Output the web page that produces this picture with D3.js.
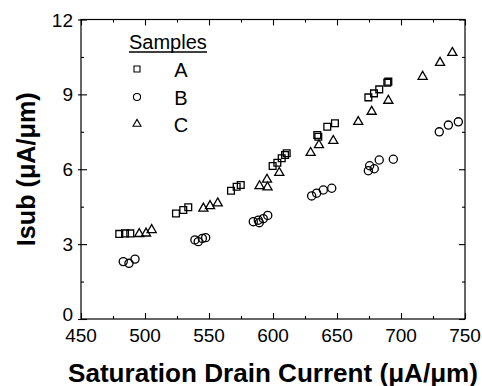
<!DOCTYPE html>
<html><head><meta charset="utf-8">
<script src="https://cdn.jsdelivr.net/npm/d3@7/dist/d3.min.js"></script>
<style>body{margin:0;background:#fff}svg{display:block}text{font-family:"Liberation Sans",Arial,sans-serif;fill:#000}</style>
</head><body><svg id="c" width="482" height="386"></svg>
<script>
// Series A (squares)
const aX = [479.9, 484.4, 488.5, 524.2, 529.9, 533.8, 567.2, 571.6, 574.8, 599.7, 603.4, 606.8, 609.4, 610.7, 634.6, 635.4, 642.4, 648.4, 674.5, 678.9, 683.0, 689.3, 690.1];
const aY = [3.41, 3.43, 3.43, 4.23, 4.37, 4.48, 5.14, 5.30, 5.37, 6.13, 6.26, 6.44, 6.57, 6.64, 7.37, 7.30, 7.70, 7.84, 8.88, 9.04, 9.20, 9.47, 9.51];
// Series B (circles)
const bX = [483.0, 487.5, 492.2, 539.0, 541.6, 544.8, 547.4, 584.6, 588.5, 589.3, 592.4, 595.9, 630.2, 634.1, 639.3, 645.9, 674.5, 675.5, 679.1, 683.0, 694.0, 729.9, 737.0, 744.8];
const bY = [2.30, 2.23, 2.40, 3.17, 3.10, 3.23, 3.26, 3.90, 3.96, 3.86, 4.02, 4.15, 4.93, 5.04, 5.17, 5.24, 5.94, 6.14, 6.02, 6.37, 6.40, 7.50, 7.77, 7.90];
// Series C (triangles)
const cX = [495.5, 500.8, 505.2, 545.6, 550.8, 556.8, 589.5, 595.3, 595.7, 604.9, 629.4, 635.9, 647.1, 666.6, 677.1, 690.1, 716.9, 730.5, 740.1];
const cY = [3.41, 3.43, 3.57, 4.43, 4.53, 4.64, 5.33, 5.59, 5.28, 5.86, 6.66, 6.97, 7.14, 7.90, 8.31, 8.75, 9.71, 10.27, 10.67];
const seriesNames = ["A", "B", "C"];
const xTicks = [450, 500, 550, 600, 650, 700, 750];
const yTicks = [0, 3, 6, 9, 12];
const xMinor = [475, 525, 575, 625, 675, 725];
const yMinor = [1.5, 4.5, 7.5, 10.5];

const L = 81, R = 465, T = 19.5, B = 319;
const svg = d3.select("#c");
const x = d3.scaleLinear().domain([450, 750]).range([L, R]);
const y = d3.scaleLinear().domain([0, 12]).range([B, T]);

// axes with inward ticks
const g = svg.append("g");
function axisLines(axisFn, ticks, len, tr) {
  const a = g.append("g").attr("transform", tr).call(axisFn.tickValues(ticks).tickSize(len).tickFormat(""));
  a.select(".domain").remove();
  a.selectAll("line").attr("stroke", "#000").attr("stroke-width", 1.1);
}
axisLines(d3.axisTop(x), xTicks, 6, `translate(0,${B})`);
axisLines(d3.axisTop(x), xMinor, 3, `translate(0,${B})`);
axisLines(d3.axisBottom(x), xTicks, 6, `translate(0,${T})`);
axisLines(d3.axisBottom(x), xMinor, 3, `translate(0,${T})`);
axisLines(d3.axisRight(y), yTicks, 6, `translate(${L},0)`);
axisLines(d3.axisRight(y), yMinor, 3, `translate(${L},0)`);
axisLines(d3.axisLeft(y), yTicks, 3, `translate(${L},0)`);
axisLines(d3.axisLeft(y), yTicks, 6, `translate(${R},0)`);
axisLines(d3.axisLeft(y), yMinor, 3, `translate(${R},0)`);

g.append("rect").attr("x", L).attr("y", T).attr("width", R - L).attr("height", B - T)
  .attr("fill", "none").attr("stroke", "#000").attr("stroke-width", 1.2);

// tick labels
g.selectAll(".xl").data(xTicks).join("text").attr("x", d => x(d)).attr("y", 342)
  .attr("text-anchor", "middle").attr("font-size", 19).text(d => d);
g.selectAll(".yl").data(yTicks).join("text").attr("x", 73).attr("y", d => y(d) + (d === 0 ? 2 : 7))
  .attr("text-anchor", "end").attr("font-size", 19).text(d => d);

// titles
svg.append("text").attr("x", (L + R) / 2).attr("y", 382).attr("text-anchor", "middle")
  .attr("font-size", 25).attr("font-weight", "bold").attr("textLength", 410).attr("lengthAdjust", "spacingAndGlyphs")
  .text("Saturation Drain Current (\u03BCA/\u03BCm)");
svg.append("text").attr("transform", `translate(35,${(T + B) / 2}) rotate(-90)`).attr("text-anchor", "middle")
  .attr("font-size", 26).attr("font-weight", "bold").attr("textLength", 154).attr("lengthAdjust", "spacingAndGlyphs")
  .text("Isub (\u03BCA/\u03BCm)");

// markers
const sq = d3.symbol().type(d3.symbolSquare).size(46);
const ci = d3.symbol().type(d3.symbolCircle).size(52);
const tri = d3.symbol().type(d3.symbolTriangle).size(36);
function plot(xs, ys, sym) {
  svg.append("g").selectAll("path").data(xs.map((v, i) => [v, ys[i]])).join("path")
    .attr("transform", d => `translate(${x(d[0])},${y(d[1])})`).attr("d", sym)
    .attr("fill", "none").attr("stroke", "#000").attr("stroke-width", 1.3);
}
plot(bX, bY, ci);
plot(cX, cY, tri);
plot(aX, aY, sq);

// legend
const lg = svg.append("g");
lg.append("text").attr("x", 129).attr("y", 49).attr("font-size", 20).text("Samples");
lg.append("line").attr("x1", 129).attr("x2", 207).attr("y1", 52).attr("y2", 52).attr("stroke", "#000").attr("stroke-width", 1.3);
const syms = [d3.symbol().type(d3.symbolSquare).size(36), d3.symbol().type(d3.symbolCircle).size(40), d3.symbol().type(d3.symbolTriangle).size(28)];
const ly = [69, 97, 124];
seriesNames.forEach((n, i) => {
  lg.append("path").attr("transform", `translate(137,${ly[i]})`).attr("d", syms[i])
    .attr("fill", "none").attr("stroke", "#000").attr("stroke-width", 1.1);
  lg.append("text").attr("x", 181).attr("y", ly[i] + 7.5).attr("text-anchor", "middle").attr("font-size", 20).text(n);
});
</script></body></html>
